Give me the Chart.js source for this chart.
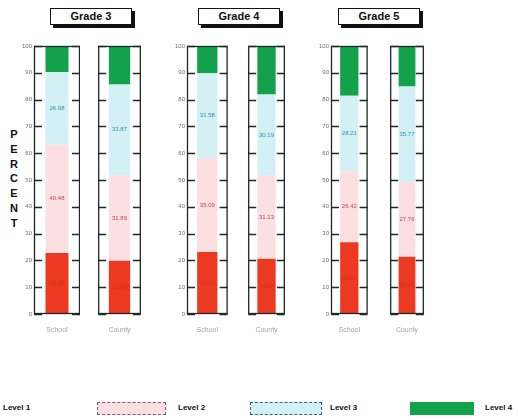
<!DOCTYPE html>
<html>
<head>
<meta charset="utf-8">
<script src="https://cdn.jsdelivr.net/npm/chart.js@4"></script>
<style>
  html, body { margin: 0; padding: 0; background: #fff; }
  body { width: 518px; height: 420px; position: relative; overflow: hidden;
         font-family: "Liberation Sans", Arial, sans-serif; }
  canvas { position: absolute; }
  .title { position: absolute; top: 8px; height: 15px; border: 1px solid #111; background: #fff;
           box-shadow: 3px 3px 0 #111; font-weight: bold; font-size: 11px; line-height: 15px;
           text-align: center; color: #111; }
  .axis-title { position: absolute; left: 7px; top: 127px; width: 14px; font-weight: bold;
                font-size: 11px; line-height: 14.8px; text-align: center; color: #111; }
  .legend-item { position: absolute; top: 402px; height: 11px; }
  .legend-text { position: absolute; top: 403px; font-weight: bold; font-size: 8px; color: #111; }
</style>
</head>
<body>
<div class="axis-title" id="axisTitle"></div>
<script>
// Percentage of students at each performance level, per grade and group.
const grades = ['Grade 3', 'Grade 4', 'Grade 5'];
const groups = ['School', 'County'];
const levels = ['Level 1', 'Level 2', 'Level 3', 'Level 4'];
// order: G3 School, G3 County, G4 School, G4 County, G5 School, G5 County
const level1 = [22.80, 19.90, 23.17, 20.60, 26.80, 21.40];
const level2 = [40.48, 31.89, 35.09, 31.13, 26.42, 27.76];
const level3 = [26.98, 33.87, 31.58, 30.19, 28.21, 35.77];
const level4 = [9.74, 14.34, 10.16, 18.08, 18.57, 15.07];
const yMin = 0, yMax = 100, yStep = 10;
const axisWord = 'PERCENT';

const series = [level1, level2, level3, level4];
const fills = ['#ec3a22', '#fbdfe2', '#d3f1f4', '#13a14b'];
const valueColors = ['rgba(150,25,10,0.30)', '#b0485a', '#2a8db0', null];
const legendBorders = [null, '1px dashed #8a5565', '1px dashed #3a5f90', '1px solid #13a14b'];

// frame placement for each small chart: [left, width]
const frames = [[34, 46], [97, 45], [187, 43], [245, 43], [331, 41], [386, 42]];
const titleBoxes = [[50, 80], [198, 80], [338, 80]];
const plotTop = 46, plotBottom = 314, yAxisWidth = 24, xAxisHeight = 26;

document.getElementById('axisTitle').innerHTML = axisWord.split('').join('<br>');

// Box around each plot with short inward tick marks on both sides
const frameTicks = {
  id: 'frameTicks',
  afterDatasetsDraw(chart) {
    const { ctx, chartArea: a, scales: { y } } = chart;
    ctx.save();
    ctx.strokeStyle = '#1d2a24';
    ctx.lineWidth = 1.3;
    ctx.strokeRect(a.left + 0.5, a.top + 0.5, a.right - a.left - 1, a.bottom - a.top - 1);
    ctx.lineWidth = 1.6;
    for (let v = yMin; v <= yMax; v += yStep) {
      const py = Math.round(y.getPixelForValue(v)) + 0.5;
      ctx.beginPath();
      ctx.moveTo(a.left, py); ctx.lineTo(a.left + 8, py);
      ctx.moveTo(a.right - 8, py); ctx.lineTo(a.right, py);
      ctx.stroke();
    }
    ctx.restore();
  }
};

// Value written in the middle of each stacked segment
const segmentValues = {
  id: 'segmentValues',
  afterDatasetsDraw(chart) {
    const ctx = chart.ctx;
    ctx.save();
    ctx.font = '6px "Liberation Sans", Arial, sans-serif';
    ctx.textAlign = 'center';
    ctx.textBaseline = 'middle';
    chart.data.datasets.forEach((ds, i) => {
      const color = valueColors[i];
      if (!color) return;
      ctx.fillStyle = color;
      chart.getDatasetMeta(i).data.forEach((bar, j) => {
        const p = bar.getProps(['x', 'y', 'base'], true);
        ctx.fillText(ds.data[j].toFixed(2), p.x, (p.y + p.base) / 2);
      });
    });
    ctx.restore();
  }
};

frames.forEach(([boxLeft, boxWidth], k) => {
  const isSchool = k % 2 === 0;
  const canvas = document.createElement('canvas');
  const left = isSchool ? boxLeft - yAxisWidth : boxLeft;
  const width = isSchool ? boxWidth + yAxisWidth : boxWidth;
  const top = plotTop - 6;
  const height = plotBottom + xAxisHeight - top;
  canvas.width = width; canvas.height = height;
  canvas.style.left = left + 'px'; canvas.style.top = top + 'px';
  canvas.style.width = width + 'px'; canvas.style.height = height + 'px';
  document.body.appendChild(canvas);

  const yScale = {
    display: isSchool,
    stacked: true,
    min: yMin, max: yMax,
    grid: { display: false, drawTicks: false },
    border: { display: false },
    ticks: { stepSize: yStep, color: '#6d6d6d', padding: 2,
             font: { size: 6, family: '"Liberation Sans", Arial, sans-serif' } }
  };
  if (isSchool) yScale.afterFit = (scale) => { scale.width = yAxisWidth; };

  new Chart(canvas, {
    type: 'bar',
    data: {
      labels: [groups[k % 2]],
      datasets: levels.map((lv, i) => ({
        label: lv,
        data: [series[i][k]],
        backgroundColor: fills[i],
        borderWidth: 0,
        barPercentage: 1,
        categoryPercentage: 0.5
      }))
    },
    options: {
      responsive: false,
      animation: false,
      devicePixelRatio: 1,
      layout: { padding: { top: 6, left: 0, right: 0, bottom: 0 } },
      plugins: { legend: { display: false }, tooltip: { enabled: false } },
      scales: {
        x: {
          stacked: true,
          grid: { display: false, drawTicks: false },
          border: { display: false },
          ticks: { color: '#a3a3a3', font: { size: 7, family: '"Liberation Sans", Arial, sans-serif' }, padding: 12 },
          afterFit(scale) { scale.height = xAxisHeight; }
        },
        y: yScale
      }
    },
    plugins: [frameTicks, segmentValues]
  });
});

// Grade headings
grades.forEach((g, i) => {
  const d = document.createElement('div');
  d.className = 'title';
  d.style.left = titleBoxes[i][0] + 'px';
  d.style.width = titleBoxes[i][1] + 'px';
  d.textContent = g;
  document.body.appendChild(d);
});

// Legend row along the bottom
const legendSwatches = [[-80, 68], [97, 69], [250, 72], [410, 64]];
const legendTexts = [3, 178, 330, 485];
levels.forEach((lv, i) => {
  const [sx, sw] = legendSwatches[i];
  if (sx + sw > 0) {
    const s = document.createElement('div');
    s.className = 'legend-item';
    s.style.left = sx + 'px';
    s.style.width = (sw - 2) + 'px';
    s.style.background = fills[i];
    s.style.border = legendBorders[i] || 'none';
    document.body.appendChild(s);
  }
  const t = document.createElement('div');
  t.className = 'legend-text';
  t.style.left = legendTexts[i] + 'px';
  t.textContent = lv;
  document.body.appendChild(t);
});
</script>
</body>
</html>
